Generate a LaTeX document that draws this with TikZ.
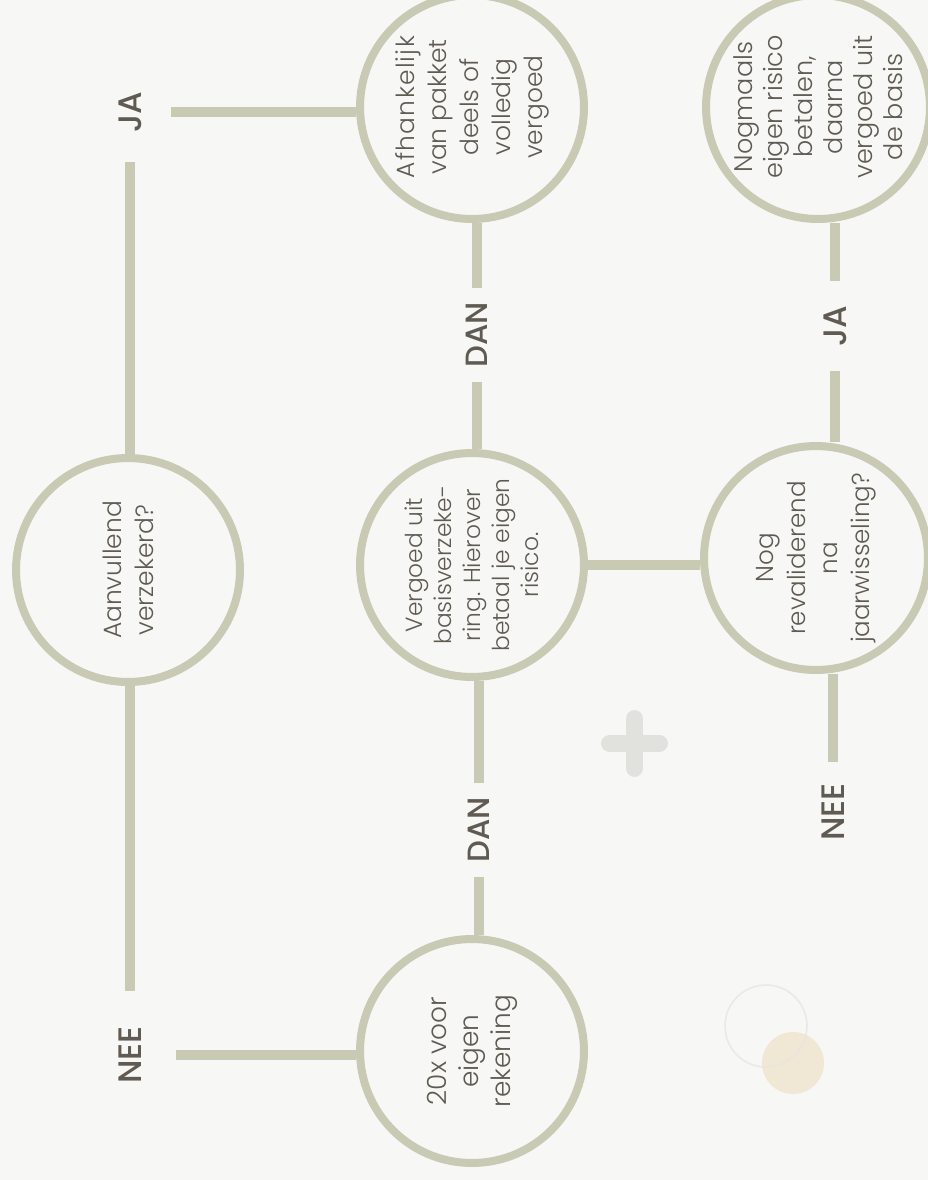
\documentclass[tikz,border=0pt]{standalone}
\usepackage{fontspec}
\setmainfont{Poppins}[UprightFont=* Light, BoldFont=* Medium]
\usepackage{xcolor}
\usepackage{tikz}

\definecolor{sage}{HTML}{C8CAB4}
\definecolor{ink}{HTML}{5F5B52}
\definecolor{paper}{HTML}{F7F7F5}
\definecolor{plusgrey}{HTML}{E1E1DE}
\definecolor{ringgrey}{HTML}{E6E6E2}
\definecolor{sand}{HTML}{F1E7D5}

\tikzset{
  bol/.style={circle, draw=sage, line width=4.55pt, minimum size=4.48cm,
    inner sep=0pt, text=ink, rotate=90, align=center,
    font=\fontsize{14.2}{18.2}\selectfont},
  lab/.style={text=ink, rotate=90, inner sep=0pt,
    font=\bfseries\fontsize{18.5}{20}\selectfont},
  lijn/.style={draw=sage, line width=5.4pt},
}

\begin{document}
\begin{tikzpicture}[x=0.02cm, y=-0.02cm]
            \useasboundingbox (0,0) rectangle (928,1180);
            \fill[paper] (0,0) rectangle (928,1180);
            \clip (0,0) rectangle (928,1180);

            % decoration
            \draw[plusgrey, line width=10.2pt, line cap=round] (610,743.5) -- (659,743.5);
            \draw[plusgrey, line width=10.2pt, line cap=round] (634.5,719) -- (634.5,768);
            \fill[sand] (793,1063) circle (31);
            \draw[ringgrey, line width=0.9pt, opacity=0.8] (766,1026) circle (41);

            % circles
            \node[bol] (a1) at (128,570) {Aanvullend\\verzekerd?};
            \node[bol] (a2) at (472,107) {{\addfontfeature{LetterSpace=5}Afhankelijk}\\van pakket\\deels of\\volledig\\vergoed};
            \node[bol, font=\fontsize{13.3}{16.5}\selectfont] (a3) at (472,565) {Vergoed uit\\basisverzeke-\\ring. Hierover\\betaal je eigen\\risico.};
            \node[bol, font=\fontsize{15}{18.2}\selectfont] (a4) at (472,1051) {20x voor\\eigen\\rekening};
            \node[bol, font=\fontsize{14}{18.2}\selectfont] (a5) at (816,558) {Nog\\revaliderend\\na\\jaarwisseling?};
            \node[bol, font=\fontsize{14.5}{17}\selectfont] (a6) at (818,107) {Nogmaals\\eigen risico\\betalen,\\daarna\\vergoed uit\\de basis};

            % labels
            \node[lab, outer sep=17pt] (l1) at (130,112) {JA};
            \node[lab, outer sep=20pt] (l2) at (130,1055) {NEE};
            \node[lab, outer sep=8pt, font=\bfseries\fontsize{17.5}{20}\selectfont] (l3) at (477,335) {DAN};
            \node[lab, outer sep=8pt, font=\bfseries\fontsize{17.5}{20}\selectfont] (l4) at (479,830) {DAN};
            \node[lab, outer sep=14pt] (l5) at (835,326) {JA};
            \node[lab, outer sep=12pt] (l6) at (833,812) {NEE};

            % connectors
            \draw[lijn] (l1 |- a1.east) -- (l1);
            \draw[lijn] (l1) -- (a2.north |- l1);
            \draw[lijn] (l2 |- a1.west) -- (l2);
            \draw[lijn] (l2) -- (a4.north |- l2);
            \draw[lijn] (l3 |- a2.west) -- (l3);
            \draw[lijn] (l3) -- (l3 |- a3.east);
            \draw[lijn] (l4 |- a3.west) -- (l4);
            \draw[lijn] (l4) -- (l4 |- a4.east);
            \draw[lijn] (a3.south) -- (a3.south -| a5.north);
            \draw[lijn] (l5 |- a5.east) -- (l5);
            \draw[lijn] (l5) -- (l5 |- a6.west);
            \draw[lijn] (l6 |- a5.west) -- (l6);
        \end{tikzpicture}
\end{document}
